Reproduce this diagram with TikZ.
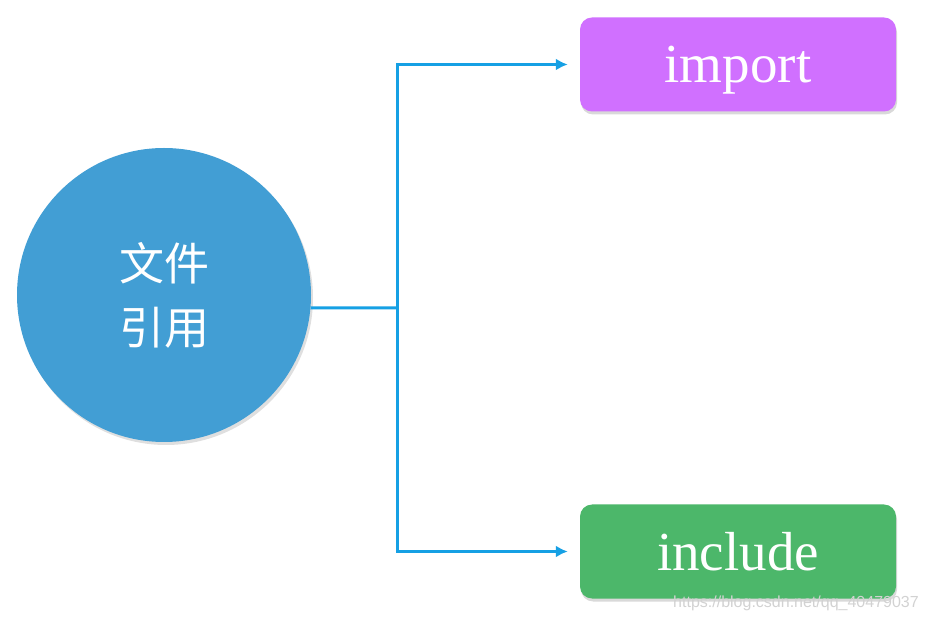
\documentclass[tikz,border=0pt]{standalone}
\usepackage{fontspec}
\setmainfont{Liberation Serif}
\setsansfont{Liberation Sans}
\newfontfamily\cjk{Noto Sans CJK SC}
\usetikzlibrary{shadows}
\usetikzlibrary{arrows.meta}
\definecolor{topicblue}{RGB}{66,158,212}
\definecolor{lineblue}{RGB}{22,160,228}
\definecolor{importpurple}{RGB}{208,112,255}
\definecolor{includegreen}{RGB}{76,183,106}
\tikzstyle{topic}=[circle,fill=topicblue,minimum size=294pt,inner sep=0pt,text=white,align=center,font=\cjk\fontsize{45}{64}\selectfont,drop shadow={opacity=0.25,shadow xshift=2pt,shadow yshift=-3pt}]
\tikzstyle{leaf}=[rectangle,rounded corners=12pt,minimum width=316pt,minimum height=94pt,inner sep=0pt,text depth=0pt,text=white,font=\fontsize{55}{60}\selectfont,drop shadow={opacity=0.3,shadow xshift=1pt,shadow yshift=-3pt}]
\tikzstyle{trunk}=[draw=lineblue,line width=3pt]
\tikzstyle{branch}=[draw=lineblue,line width=3pt,-{Latex[length=12pt,width=12pt]},shorten >=12pt]
\tikzstyle{watermark}=[font=\sffamily\fontsize{16}{16}\selectfont,text=gray!35]

\begin{document}
\begin{tikzpicture}[x=1pt,y=1pt]
  \useasboundingbox (0,0) rectangle (926,621);

  % centre
  \node[topic] (file) at (164,326) {\raisebox{-5pt}{文件}\\\raisebox{-5pt}{引用}};

  % leaves
  \foreach \pos/\name/\col/\txt in {{(738,556.5)/import/importpurple/import}, {(738,69.5)/include/includegreen/include}}
    \node[leaf,fill=\col] (\name) at \pos {\txt};

  % connectors
  \coordinate (hub) at (397,313);
  \path[trunk] (file.-5) -- (hub);
  \foreach \dest in {import, include}
    \path[branch] (hub) |- (\dest);

  % watermark
  \node[watermark] (url) at (796,18) {https://blog.csdn.net/qq\_40479037};

\end{tikzpicture}
\end{document}
